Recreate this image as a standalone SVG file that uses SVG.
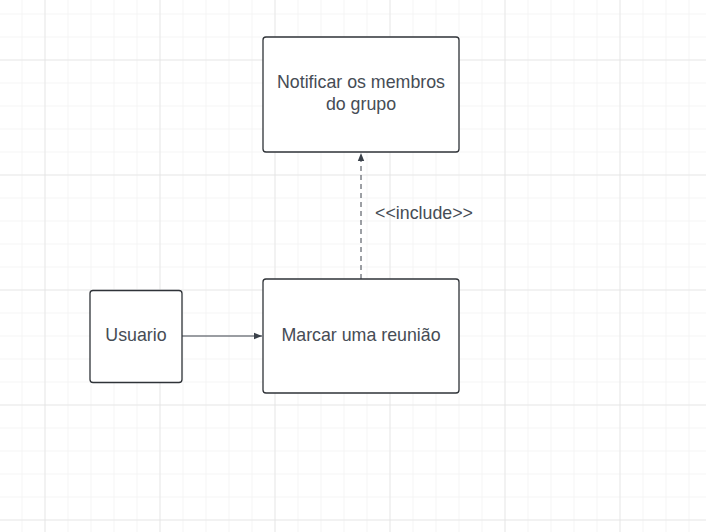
<svg xmlns="http://www.w3.org/2000/svg" width="706" height="532" viewBox="0 0 706 532">
<defs>
<pattern id="minor" x="21.5" y="13.5" width="23" height="23" patternUnits="userSpaceOnUse">
<path d="M0 0H23M0 0V23" fill="none" stroke="#ebebeb" stroke-width="1"/>
</pattern>
<pattern id="major" x="44.5" y="59.5" width="115" height="115" patternUnits="userSpaceOnUse">
<path d="M0 0H115M0 0V115" fill="none" stroke="#dcdcdc" stroke-width="1"/>
</pattern>
<marker id="arrow" viewBox="0 0 10 10" refX="10" refY="5" markerWidth="8" markerHeight="8" markerUnits="userSpaceOnUse" orient="auto">
<path d="M0 1L10 5L0 9Z" fill="#3a414a"/>
</marker>
</defs>
<style>
.node{fill:#ffffff;stroke:#2f3338;stroke-width:1.3}
.lbl{font-family:"Liberation Sans",Arial,sans-serif;font-size:17.8px;fill:#464c55;text-anchor:middle}
.edge{fill:none;stroke:#3a414a;stroke-width:1}
</style>
<rect width="706" height="532" fill="#ffffff"/>
<rect width="706" height="532" fill="url(#minor)"/>
<rect width="706" height="532" fill="url(#major)"/>
<g id="connectors">
<line class="edge" x1="182" y1="336" x2="262" y2="336" marker-end="url(#arrow)"/>
<line class="edge" x1="361" y1="279" x2="361" y2="153" stroke-dasharray="5,4" marker-end="url(#arrow)"/>
<text class="lbl" x="424" y="219">&lt;&lt;include&gt;&gt;</text>
</g>
<g id="notificar">
<rect class="node" x="263" y="37" width="196" height="115" rx="3"/>
<text class="lbl" x="361" y="88">Notificar os membros</text>
<text class="lbl" x="361" y="110">do grupo</text>
</g>
<g id="marcar">
<rect class="node" x="263" y="279" width="196" height="114" rx="3"/>
<text class="lbl" x="361" y="341">Marcar uma reunião</text>
</g>
<g id="usuario">
<rect class="node" x="90" y="290.5" width="92" height="92" rx="3"/>
<text class="lbl" x="136" y="341">Usuario</text>
</g>
</svg>
